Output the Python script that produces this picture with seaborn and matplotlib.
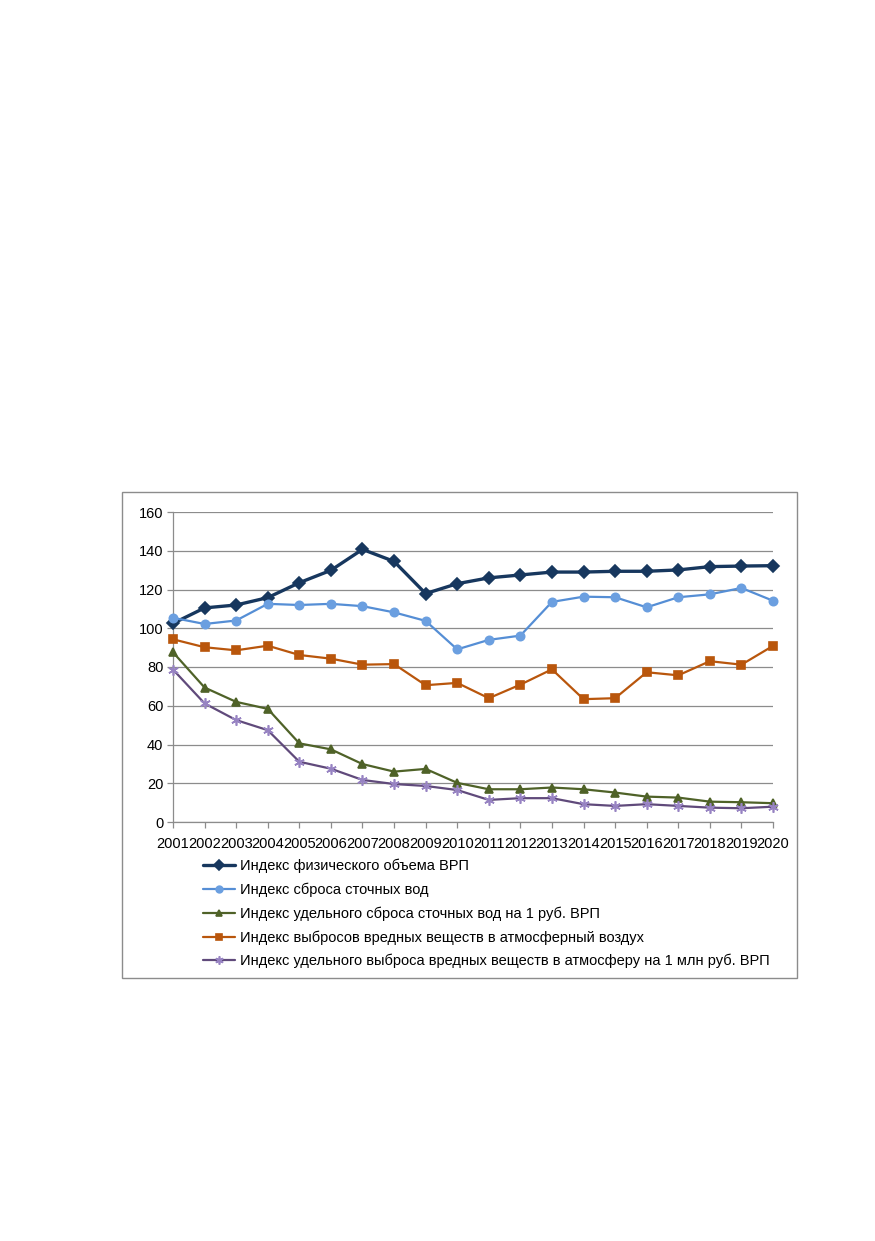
import matplotlib
matplotlib.use("Agg")
import matplotlib.pyplot as plt
import pandas as pd
import seaborn as sns
from matplotlib.patches import Rectangle

# data
years = list(range(2001, 2021))
vrp_index = [102.5, 110.5, 112, 115.8, 123.5, 129.9, 140.7, 134.5, 117.9, 123,
             126, 127.5, 129, 129, 129.4, 129.4, 130.1, 131.8, 132.1, 132.3]
wastewater_index = [105.4, 102.2, 104, 112.6, 112, 112.6, 111.4, 108.2, 103.8, 89.1,
                    94, 96.2, 113.6, 116.3, 116, 110.8, 116, 117.5, 120.8, 114.2]
wastewater_specific = [87.6, 69.4, 62, 58.4, 40.6, 37.5, 29.9, 26, 27.4, 20.2,
                       16.9, 16.9, 17.8, 16.9, 15.2, 13.1, 12.6, 10.5, 10.2, 9.7]
emissions_index = [94.3, 90.2, 88.6, 91, 86.2, 84.3, 81.2, 81.5, 70.6, 71.8,
                   63.9, 70.9, 78.8, 63.4, 63.9, 77.3, 75.7, 83, 81.2, 90.9]
emissions_specific = [78.7, 61.2, 52.6, 47.4, 31.1, 27.5, 21.7, 19.6, 18.6, 16.5,
                      11.4, 12.3, 12.3, 9.2, 8.3, 9.2, 8.3, 7.4, 7.1, 7.9]

labels = [
    "Индекс физического объема ВРП",
    "Индекс сброса сточных вод",
    "Индекс удельного сброса сточных вод на 1 руб. ВРП",
    "Индекс выбросов вредных веществ в атмосферный воздух",
    "Индекс удельного выброса вредных веществ в атмосферу на 1 млн руб. ВРП",
]
series = [vrp_index, wastewater_index, wastewater_specific, emissions_index, emissions_specific]

# styles per series: line colour, marker, marker colour, marker size, line width
styles = [
    ("#17375E", "D", "#17375E", 6.5, 2.4),
    ("#558ED5", "o", "#6B9FE0", 6, 1.6),
    ("#4F6228", "^", "#4F6228", 6, 1.6),
    ("#B9560C", "s", "#B9560C", 5.5, 1.6),
    ("#604A7B", (6, 2, 0), "#9783C2", 7.5, 1.6),
]

df = pd.DataFrame({"year": years})
for lab, vals in zip(labels, series):
    df[lab] = vals
df_long = df.melt(id_vars="year", var_name="series", value_name="value")

sns.set_style("white")
plt.rcParams["font.family"] = ["Liberation Sans", "DejaVu Sans"]
plt.rcParams["text.color"] = "black"
plt.rcParams["xtick.labelcolor"] = "black"
plt.rcParams["ytick.labelcolor"] = "black"

fig = plt.figure(figsize=(8.75, 12.41), dpi=100)
ax = fig.add_axes([173 / 875, 1 - 822 / 1241, 600 / 875, 310 / 1241])

for lab, (col, mk, mcol, ms, lw) in zip(labels, styles):
    sub = df_long[df_long["series"] == lab]
    sns.lineplot(data=sub, x="year", y="value", ax=ax, color=col, lw=lw,
                 marker=mk, markersize=ms, markerfacecolor=mcol,
                 markeredgecolor=mcol, markeredgewidth=1.2, label=lab,
                 legend=False, clip_on=False, zorder=3)

ax.set_xlim(2001, 2020)
ax.set_ylim(0, 160)
ax.set_yticks(range(0, 161, 20))
ax.set_xticks(years)
ax.set_xticklabels([str(y) for y in years])
ax.set_xlabel("")
ax.set_ylabel("")
ax.grid(axis="y", color="#8C8C8C", lw=0.9)
ax.grid(axis="x", visible=False)
for side in ["top", "right"]:
    ax.spines[side].set_visible(False)
for side in ["left", "bottom"]:
    ax.spines[side].set_color("#8C8C8C")
    ax.spines[side].set_linewidth(0.9)
ax.tick_params(axis="y", length=4, width=0.9, color="#8C8C8C", labelsize=10.5, pad=3, left=True)
ax.tick_params(axis="x", length=4, width=0.9, color="#8C8C8C", labelsize=10.5, pad=7, bottom=True)

handles, labs = ax.get_legend_handles_labels()
fig.legend(handles, labs, loc="upper left", bbox_to_anchor=(203 / 875, 1 - 859 / 1241),
           frameon=False, fontsize=10.5, handlelength=2.2, handletextpad=0.35,
           labelspacing=0.64, borderpad=0, borderaxespad=0, numpoints=1,
           markerscale=0.8)

# outer chart border
fig.patches.append(Rectangle((122 / 875, 1 - 978 / 1241), 675 / 875, 486 / 1241,
                             transform=fig.transFigure, fill=False,
                             edgecolor="#8C8C8C", lw=1))

fig.savefig("out.png", dpi=100)
